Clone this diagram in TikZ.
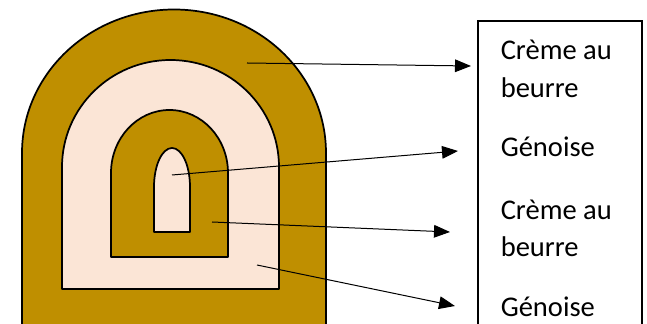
\documentclass[tikz,border=0pt]{standalone}
\usepackage{fontspec}
\setmainfont{Carlito}
\usetikzlibrary{arrows.meta}
\definecolor{gold}{HTML}{BF8F00}
\definecolor{peach}{HTML}{FBE5D6}
\tikzset{
  layer/.style={draw=black, line width=1.3pt, line join=round},
  goldlayer/.style={layer, fill=gold},
  peachlayer/.style={layer, fill=peach},
  lbl/.style={anchor=base west, inner sep=0pt, font=\fontsize{21.4pt}{28pt}\selectfont},
  ptr/.style={draw=black, line width=0.75pt, -{Triangle[length=12pt,width=9.5pt]}},
  legendbox/.style={draw=black, line width=0.8pt}
}
\begin{document}
\begin{tikzpicture}[x=0.75pt,y=0.75pt]
\useasboundingbox (0,0) rectangle (647,324);
\clip (0,0) rectangle (647,324);
\fill[white] (0,0) rectangle (647,324);
% layers
\path[goldlayer] (22,-20) -- (22,171) arc[start angle=180,end angle=0,x radius=152,y radius=143.5] -- (326,-20) -- cycle;
\path[peachlayer] (62,35) -- (62,157) arc[start angle=180,end angle=0,x radius=108.5,y radius=107] -- (279,35) -- cycle;
\path[goldlayer] (111,67) -- (111,151) arc[start angle=180,end angle=0,x radius=58.5,y radius=63] -- (228,67) -- cycle;
\path[peachlayer] (154,92) -- (154,137) arc[start angle=180,end angle=0,x radius=18,y radius=39] -- (190,92) -- cycle;
% legend box
\draw[legendbox] (478,-20) rectangle (642,303);
\node[lbl] (t1a) at (500.5,264.7) {Crème au};
\node[lbl] (t1b) at (500.5,226) {beurre};
\node[lbl] (t2) at (500.5,167.3) {Génoise};
\node[lbl] (t3a) at (500.5,104) {Crème au};
\node[lbl] (t3b) at (500.5,67) {beurre};
\node[lbl] (t4) at (500.5,7.3) {Génoise};
% pointer ends
\coordinate (s1) at (247,261);
\coordinate (e1) at (471,258);
\coordinate (s2) at (172,149);
\coordinate (e2) at (458,173);
\coordinate (s3) at (212,102);
\coordinate (e3) at (450,92);
\coordinate (s4) at (257,59);
\coordinate (e4) at (455,18);
\draw[ptr] (s1) -- (e1);
\draw[ptr] (s2) -- (e2);
\draw[ptr] (s3) -- (e3);
\draw[ptr] (s4) -- (e4);
\end{tikzpicture}
\end{document}
